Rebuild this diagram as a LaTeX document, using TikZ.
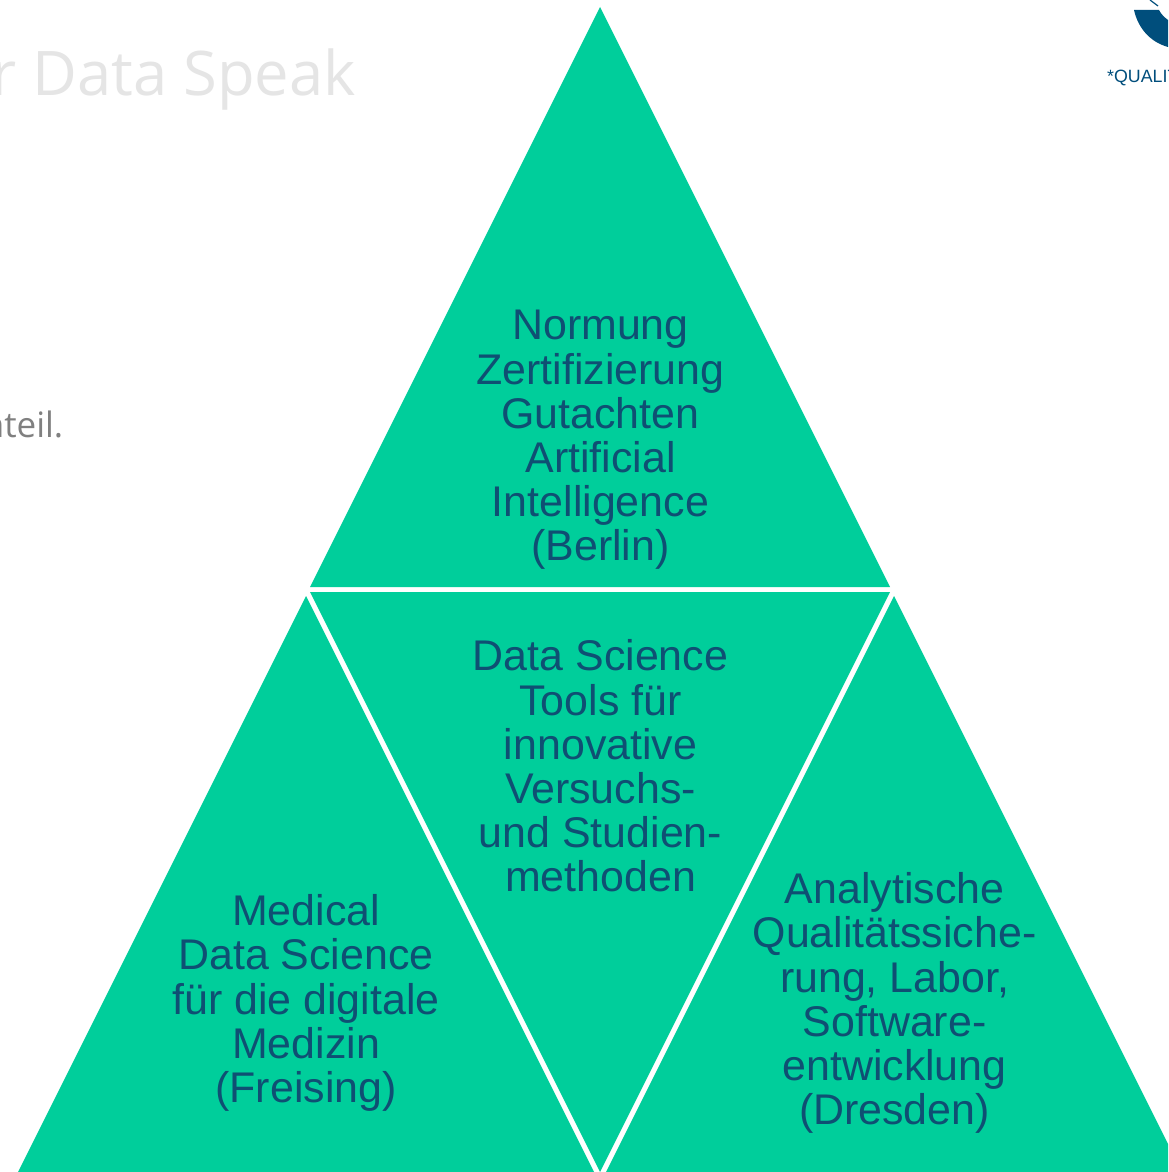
\documentclass[tikz,border=0pt]{standalone}
\usepackage{fontspec}
\setmainfont{Liberation Sans}
\newfontfamily\titlefont{Open Sans}
\definecolor{tgreen}{HTML}{00CE9B}
\definecolor{tblue}{HTML}{0F4F73}
\definecolor{logoblue}{HTML}{004E7C}
\tikzset{
  tri/.style={fill=tgreen,draw=none},
  lab/.style={align=center,text=tblue,inner sep=0pt,font=\fontsize{42.9}{44.2}\selectfont},
}
\begin{document}
\begin{tikzpicture}[x=1pt,y=-1pt]
\useasboundingbox (0,0) rectangle (1168,1172);
\clip (0,0) rectangle (1168,1172);
\fill[white] (0,0) rectangle (1168,1172);
% triangles
\fill[tri] (600,7) -- (890,587) -- (310,587) -- cycle;
\fill[tri] (310,592) -- (890,592) -- (600,1172) -- cycle;
\fill[tri] (306,596) -- (594,1172) -- (18,1172) -- cycle;
\fill[tri] (894,596) -- (1182,1172) -- (606,1172) -- cycle;
% labels
\node[lab] (top) at (600.5,440) {Normung\\Zertifizierung\\Gutachten\\Artificial\\Intelligence\\(Berlin)};
\node[lab] (mid) at (600.5,766) {Data Science\\Tools für\\innovative\\Versuchs-\\und Studien-\\methoden};
\node[lab] (left) at (306,1003) {Medical\\Data Science\\für die digitale\\Medizin\\(Freising)};
\node[lab] (right) at (894.5,1003) {Analytische\\Qualitätssiche-\\rung, Labor,\\Software-\\entwicklung\\(Dresden)};
% background fragments
\node[anchor=base east,inner sep=0pt,text=black!10,font=\titlefont\fontsize{61.5}{61.5}\selectfont] (title) at (356,95.5) {r Data Speak};
\node[anchor=base east,inner sep=0pt,text=black!50,font=\titlefont\fontsize{35}{35}\selectfont] (note) at (63.5,437) {nteil.};
% logo
\fill[logoblue] (1134,10) -- (1159,10) .. controls (1161,14) and (1164,17) .. (1168,20) -- (1168,47) .. controls (1150,42) and (1138,28) .. (1134,10) -- cycle;
\draw[logoblue,line width=1.2pt] (1150,0) -- (1158,6);
\node[anchor=base west,inner sep=0pt,text=logoblue,font=\fontsize{17.8}{18}\selectfont] (qual) at (1107,82) {*QUALITY};
\end{tikzpicture}
\end{document}
